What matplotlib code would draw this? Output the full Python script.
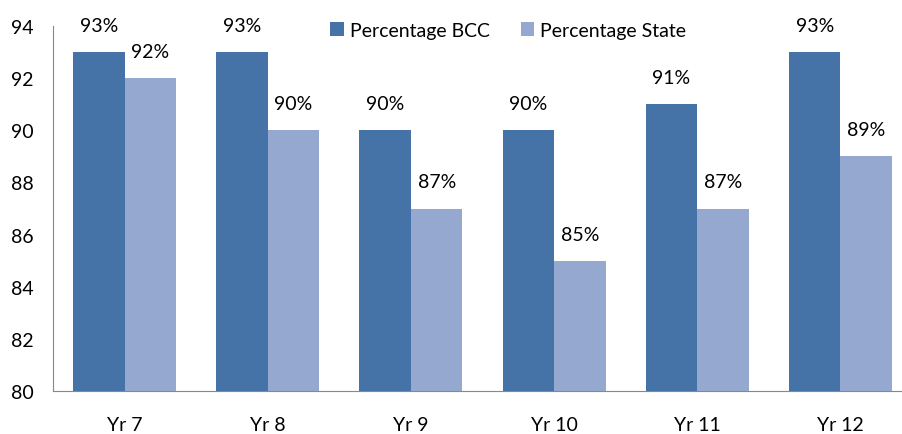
import matplotlib.pyplot as plt
import numpy as np

plt.rcParams['font.family'] = ['Lato', 'DejaVu Sans']

years = ["Yr 7", "Yr 8", "Yr 9", "Yr 10", "Yr 11", "Yr 12"]
bcc = [93, 93, 90, 90, 91, 93]
state = [92, 90, 87, 85, 87, 89]

c_bcc = "#4573A7"
c_state = "#95A9D0"

fig = plt.figure(figsize=(9.03, 4.35), dpi=100)
ax = fig.add_axes([53/903, 43/435, 859/903, 365/435])

x = np.arange(len(years))
w = 0.36
ax.bar(x - w/2, np.array(bcc) - 80, w, bottom=80, color=c_bcc, label="Percentage BCC")
ax.bar(x + w/2, np.array(state) - 80, w, bottom=80, color=c_state, label="Percentage State")

for xi, v in zip(x, bcc):
    ax.annotate(f"{v}%", (xi - w/2, v), xytext=(0, 13), textcoords="offset points",
                ha="center", va="bottom", fontsize=14)
for xi, v in zip(x, state):
    ax.annotate(f"{v}%", (xi + w/2, v), xytext=(0, 13), textcoords="offset points",
                ha="center", va="bottom", fontsize=14)

ax.set_xlim(-0.5, 5.5)
ax.set_ylim(80, 94)
ax.set_yticks(range(80, 95, 2))
ax.set_xticks(x)
ax.set_xticklabels(years)
ax.tick_params(axis="both", length=0, labelsize=14)
ax.tick_params(axis="x", pad=18)
ax.tick_params(axis="y", pad=14)

for s in ["top", "right"]:
    ax.spines[s].set_visible(False)
ax.spines["left"].set_color("#888888")
ax.spines["bottom"].set_color("#888888")

ax.legend(loc="upper center", bbox_to_anchor=(0.53, 1.06), ncol=2, frameon=False,
          fontsize=14, handlelength=0.7, handleheight=0.7, handletextpad=0.3, columnspacing=1.6)

fig.savefig("out.png", dpi=100)
